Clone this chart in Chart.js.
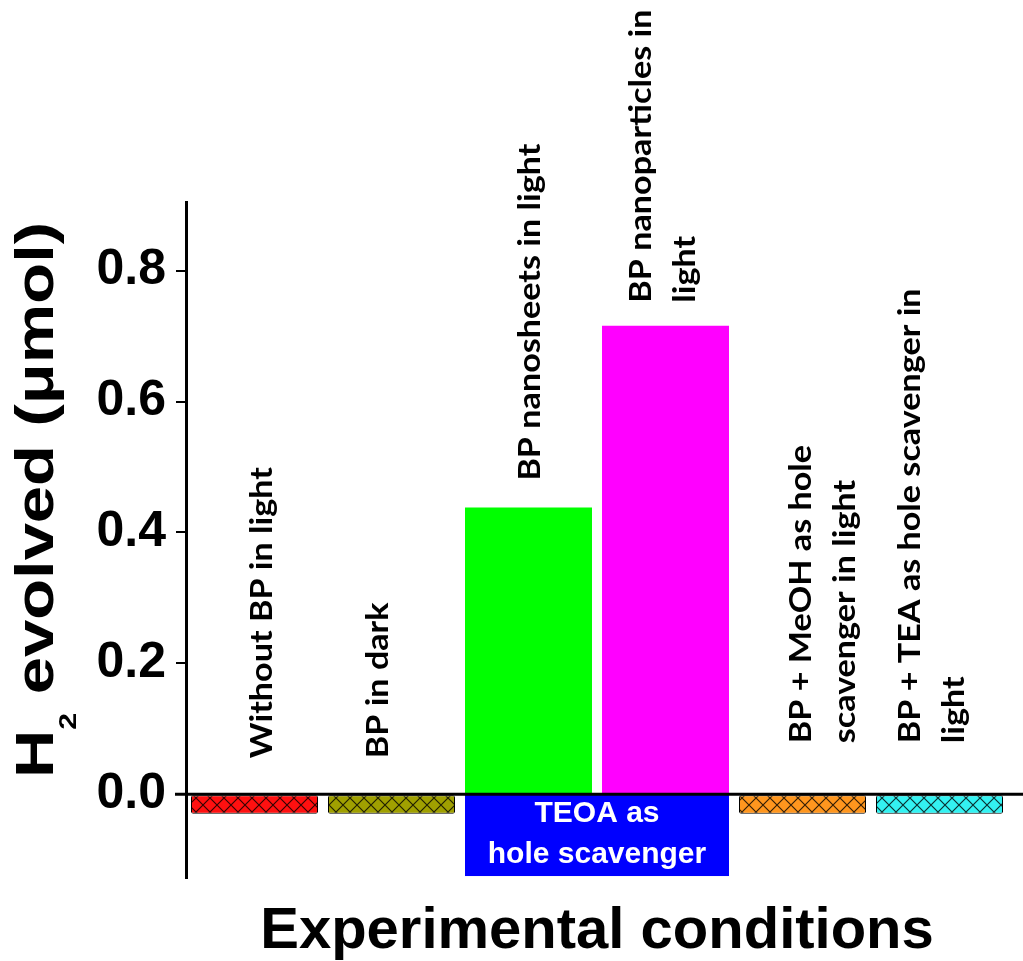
<!DOCTYPE html>
<html><head><meta charset="utf-8">
<script src="https://cdn.jsdelivr.net/npm/chart.js@4"></script>
<style>html,body{margin:0;padding:0;background:#fff;overflow:hidden}</style>
</head><body>
<canvas id="c" width="1023" height="961"></canvas>
<script>
// ---- data ----
const categories = ["Without BP in light","BP in dark","BP nanosheets in light","BP nanoparticles in light","BP + MeOH as hole scavenger in light","BP + TEA as hole scavenger in light"];
const labelLines = [["Without BP in light"],["BP in dark"],["BP nanosheets in light"],["BP nanoparticles in","light"],["BP + MeOH as hole","scavenger in light"],["BP + TEA as hole scavenger in","light"]];
const h2Values = [-0.03, -0.03, 0.438, 0.716, -0.03, -0.03];
const barColors = ["#ff1010", "#a0a000", "#00ff00", "#ff00ff", "#ff961e", "#33f2f2"];
const hatched = [true, true, false, false, true, true];
const yTicks = [0, 0.2, 0.4, 0.6, 0.8];
const yRange = [-0.128, 0.905];
const teoaBars = [2, 3];
const teoaDepth = -0.125;
const teoaText = ["TEOA as", "hole scavenger"];
const yTitleParts = ["H", "2", " evolved (\u03bcmol)"];
const xTitle = "Experimental conditions";

// ---- layout (not data) ----
const labelLayout = [{dx:7.5,gap:36},{dx:-13.5,gap:36},{dx:1.5,gap:27},{dx:-24.5,gap:23},{dx:-1.5,gap:51},{dx:-29.5,gap:51}];
const labelRefText = "BP nanosheets in light", labelRefLen = 337;

function hatch(color){
  const s = 14, c = document.createElement('canvas'); c.width = c.height = s;
  const g = c.getContext('2d');
  g.fillStyle = color; g.fillRect(0,0,s,s);
  g.strokeStyle = 'rgba(0,0,0,0.8)'; g.lineWidth = 1.2;
  g.beginPath(); g.moveTo(-1,-1); g.lineTo(s+1,s+1); g.moveTo(s+1,-1); g.lineTo(-1,s+1); g.stroke();
  return g.createPattern(c,'repeat');
}

const annot = {
  id: 'annot',
  beforeDatasetsDraw(chart){
    const ctx = chart.ctx, y = chart.scales.y, meta = chart.getDatasetMeta(0);
    const a = meta.data[teoaBars[0]], b = meta.data[teoaBars[1]];
    const x1 = a.x - a.width/2, x2 = b.x + b.width/2;
    const y0 = y.getPixelForValue(0), y1 = y.getPixelForValue(teoaDepth);
    ctx.save();
    ctx.fillStyle = '#0000ff';
    ctx.fillRect(x1, y0, x2 - x1, y1 - y0);
    ctx.fillStyle = '#ffffff';
    ctx.font = 'bold 30px "Liberation Sans", Arial, sans-serif';
    ctx.textAlign = 'center'; ctx.textBaseline = 'middle';
    const cx = (x1 + x2)/2, h = y1 - y0;
    ctx.fillText(teoaText[0], cx, y0 + h*0.24);
    ctx.fillText(teoaText[1], cx, y0 + h*0.74);
    ctx.restore();
  },
  afterDatasetsDraw(chart){
    const ctx = chart.ctx, y = chart.scales.y, meta = chart.getDatasetMeta(0);
    const area = chart.chartArea;
    const y0 = y.getPixelForValue(0);
    ctx.save();
    // zero line
    ctx.strokeStyle = '#000'; ctx.lineWidth = 3;
    ctx.beginPath(); ctx.moveTo(area.left - 11, y0); ctx.lineTo(chart.width, y0); ctx.stroke();
    // category labels
    ctx.fillStyle = '#000';
    ctx.font = 'bold 30px Lato, "Open Sans", sans-serif';
    const lsx = labelRefLen / ctx.measureText(labelRefText).width;
    ctx.textAlign = 'left'; ctx.textBaseline = 'middle';
    meta.data.forEach((el, i) => {
      const lay = labelLayout[i];
      const top = Math.min(y.getPixelForValue(h2Values[i]), y0);
      ctx.save();
      ctx.translate(el.x + lay.dx, top - lay.gap);
      ctx.rotate(-Math.PI/2);
      ctx.scale(lsx, 1);
      labelLines[i].forEach((t, k) => ctx.fillText(t, 0, k*44));
      ctx.restore();
    });
    // y title with subscript
    ctx.save();
    ctx.translate(38, 500);
    ctx.rotate(-Math.PI/2);
    const big = 'bold 53px "Liberation Sans", Arial, sans-serif';
    const small = 'bold 24px "Liberation Sans", Arial, sans-serif';
    ctx.font = big; const w1 = ctx.measureText(yTitleParts[0]).width, w3 = ctx.measureText(yTitleParts[2]).width;
    ctx.font = small; const w2 = ctx.measureText(yTitleParts[1]).width;
    const total = w1 + w2 + w3;
    const sx = 556 / total;
    ctx.scale(sx, 1);
    let x = -total/2;
    ctx.textBaseline = 'alphabetic'; ctx.textAlign = 'left';
    ctx.font = big; ctx.fillText(yTitleParts[0], x, 15); x += w1;
    ctx.font = small; ctx.fillText(yTitleParts[1], x, 38); x += w2;
    ctx.font = big; ctx.fillText(yTitleParts[2], x, 15);
    ctx.restore();
    ctx.restore();
  }
};

function draw(){
  new Chart(document.getElementById('c'), {
    type: 'bar',
    data: {
      labels: categories,
      datasets: [{
        data: h2Values,
        backgroundColor: barColors.map((c,i) => hatched[i] ? hatch(c) : c),
        borderColor: hatched.map(h => h ? '#000' : 'rgba(0,0,0,0)'),
        borderWidth: hatched.map(h => h ? 1 : 0),
        borderRadius: hatched.map(h => h ? 2 : 0),
        borderSkipped: false,
        barPercentage: 0.927,
        categoryPercentage: 1
      }]
    },
    options: {
      responsive: false, animation: false, devicePixelRatio: 1,
      layout: { padding: { top: 202, right: 15, left: 0, bottom: 0 } },
      plugins: { legend: { display: false }, tooltip: { enabled: false } },
      scales: {
        x: {
          ticks: { display: false },
          grid: { display: false, drawTicks: false },
          border: { display: false },
          title: { display: true, text: xTitle, color: '#000',
                   font: { family: '"Liberation Sans", Arial, sans-serif', weight: 'bold', size: 58, lineHeight: 1 },
                   padding: { top: 0, bottom: 0 } },
          afterFit(s){ s.height = 83; }
        },
        y: {
          min: yRange[0], max: yRange[1],
          afterBuildTicks(s){ s.ticks = yTicks.map(v => ({ value: v })); },
          ticks: { callback: v => Number(v).toFixed(1), color: '#000', padding: 10,
                   font: { family: '"Liberation Sans", Arial, sans-serif', weight: 'bold', size: 50 } },
          grid: { drawOnChartArea: false, color: '#000', lineWidth: 2, tickLength: 10 },
          border: { color: '#000', width: 3 },
          afterFit(s){ s.width = 186; }
        }
      }
    },
    plugins: [annot]
  });
}
Promise.all([
  document.fonts.load('bold 30px Lato'),
  document.fonts.load('bold 50px "Liberation Sans"')
]).then(draw, draw);
</script>
</body></html>
